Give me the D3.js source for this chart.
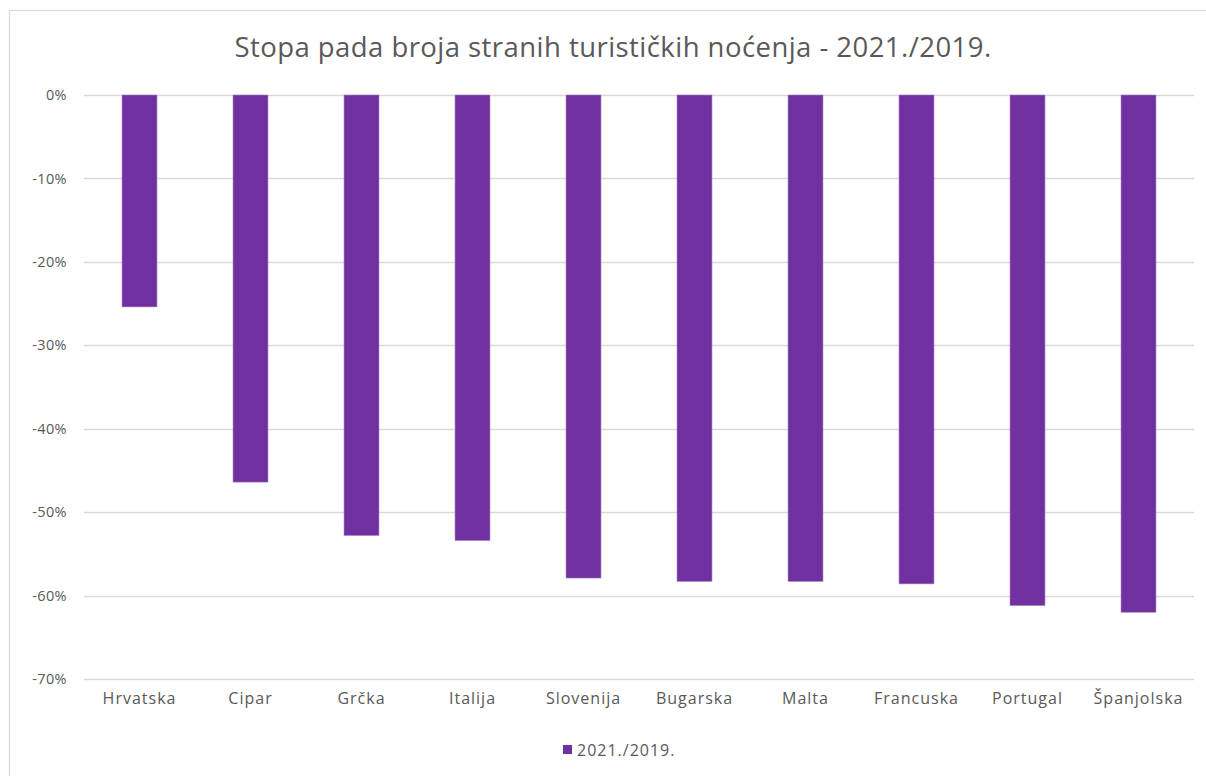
<!DOCTYPE html>
<html>
<head>
<meta charset="utf-8">
<script src="https://cdn.jsdelivr.net/npm/d3@7"></script>
<style>
  html, body { margin: 0; padding: 0; background: #ffffff; }
  svg { display: block; }
  text { font-family: "Open Sans", "Lato", sans-serif; fill: #595959; }
</style>
</head>
<body>
<svg id="chart" width="1206" height="776"></svg>
<script>
// Foreign tourist overnight stays, change 2021 vs 2019 (share)
const countries = ["Hrvatska", "Cipar", "Grčka", "Italija", "Slovenija", "Bugarska", "Malta", "Francuska", "Portugal", "Španjolska"];
const change = [-0.254, -0.464, -0.528, -0.534, -0.579, -0.583, -0.583, -0.586, -0.612, -0.620];
const yTicks = [0, -0.1, -0.2, -0.3, -0.4, -0.5, -0.6, -0.7];
const seriesName = "2021./2019.";
const titleText = "Stopa pada broja stranih turističkih noćenja - 2021./2019.";

const svg = d3.select("#chart");
const W = 1206, H = 776;
const plot = { left: 84, right: 1194, top: 95, bottom: 679 };

// chart frame
svg.append("rect")
  .attr("x", 9.5).attr("y", 10.5)
  .attr("width", W + 10).attr("height", H + 10)
  .attr("fill", "#ffffff").attr("stroke", "#d9d9d9").attr("stroke-width", 1.3);

svg.append("text")
  .attr("x", 613).attr("y", 57)
  .attr("text-anchor", "middle")
  .style("font-size", "27.5px")
  .style("letter-spacing", "0.45px")
  .text(titleText);

const x = d3.scaleBand()
  .domain(countries)
  .range([plot.left, plot.right])
  .paddingInner(0.685)
  .paddingOuter(0.3425);

const y = d3.scaleLinear()
  .domain([0, -0.7])
  .range([plot.top, plot.bottom]);

// horizontal gridlines
svg.append("g")
  .selectAll("line")
  .data(yTicks)
  .join("line")
  .attr("x1", plot.left).attr("x2", plot.right)
  .attr("y1", d => Math.round(y(d)) + 0.5).attr("y2", d => Math.round(y(d)) + 0.5)
  .attr("stroke", "#d9d9d9").attr("stroke-width", 1.3);

// value axis, percent labels with a plain hyphen sign
const yAxis = d3.axisLeft(y)
  .tickValues(yTicks)
  .tickFormat(d => Math.round(d * 100) + "%")
  .tickSize(0)
  .tickPadding(0);

svg.append("g")
  .attr("transform", "translate(67,0)")
  .call(yAxis)
  .call(g => g.select(".domain").remove())
  .call(g => g.selectAll("text")
    .style("font-size", "14.5px")
    .style("letter-spacing", "0.4px")
    .style("font-family", "'Open Sans', sans-serif")
    .attr("fill", "#595959"));

// bars
svg.append("g")
  .selectAll("rect")
  .data(countries.map((c, i) => ({ c, v: change[i] })))
  .join("rect")
  .attr("x", d => x(d.c))
  .attr("y", d => y(0))
  .attr("width", x.bandwidth())
  .attr("height", d => y(d.v) - y(0))
  .attr("fill", "#7030a0")
  .attr("stroke", "#a783c6")
  .attr("stroke-width", 0.6);

// category axis labels
const xAxis = d3.axisBottom(x).tickSize(0).tickPadding(0);
svg.append("g")
  .attr("transform", `translate(0,${plot.bottom + 14})`)
  .call(xAxis)
  .call(g => g.select(".domain").remove())
  .call(g => g.selectAll("text")
    .style("font-size", "16px")
    .style("letter-spacing", "1px")
    .style("font-family", "'Open Sans', sans-serif")
    .attr("fill", "#595959"));

// legend
const legend = svg.append("g").attr("transform", "translate(563,745)");
legend.append("rect")
  .attr("width", 9).attr("height", 9)
  .attr("fill", "#7030a0");
legend.append("text")
  .attr("x", 14).attr("y", 10.5)
  .style("font-size", "16px")
  .style("letter-spacing", "1px")
  .text(seriesName);
</script>
</body>
</html>
